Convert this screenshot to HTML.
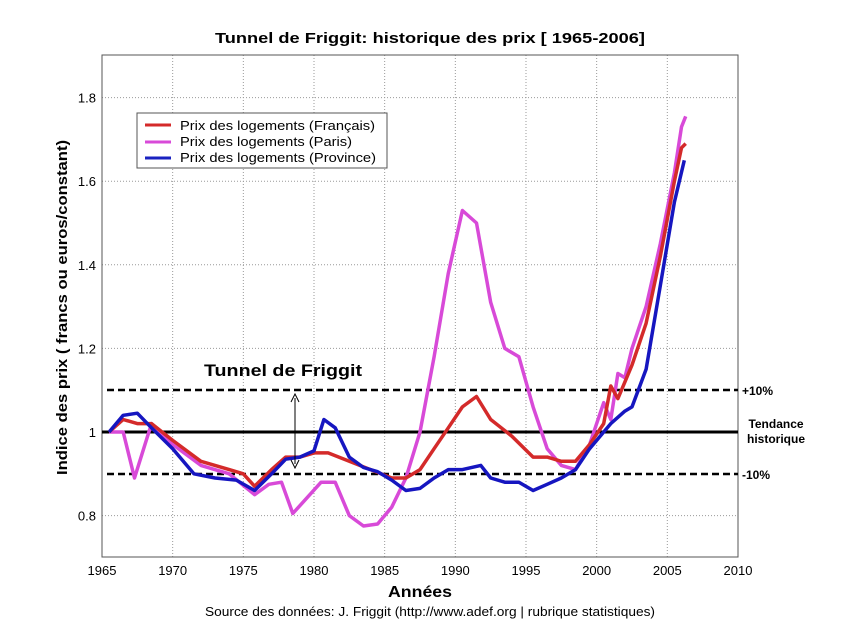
<!DOCTYPE html>
<html><head><meta charset="utf-8"><style>
body{margin:0;background:#fff;}
svg{display:block;font-family:"Liberation Sans",Arial,sans-serif;}
</style></head><body>
<svg id="s" width="846" height="638" viewBox="0 0 846 638" xmlns="http://www.w3.org/2000/svg">
<rect x="0" y="0" width="846" height="638" fill="#fff"/>
<text x="215" y="43" font-size="15" font-weight="bold" textLength="430" lengthAdjust="spacingAndGlyphs">Tunnel de Friggit: historique des prix [ 1965-2006]</text>
<g id="grid" stroke="#999" stroke-width="1" stroke-dasharray="1,2"></g>
<rect x="102" y="55" width="636" height="502" fill="none" stroke="#555" stroke-width="1"/>
<g id="ticks" font-size="13" fill="#000"></g>
<line x1="107" y1="390" x2="738" y2="390" stroke="#000" stroke-width="2.5" stroke-dasharray="7,4"/>
<line x1="107" y1="474" x2="738" y2="474" stroke="#000" stroke-width="2.5" stroke-dasharray="7,4"/>
<line x1="102" y1="432" x2="738" y2="432" stroke="#000" stroke-width="3"/>
<g id="series" fill="none" stroke-width="3.5" stroke-linejoin="round"></g>
<line x1="295" y1="398" x2="295" y2="464" stroke="#000" stroke-width="1"/>
<path d="M291,402 L295,394 L299,402 M291,460 L295,468 L299,460" fill="none" stroke="#000" stroke-width="1"/>
<text x="204" y="376" font-size="17" font-weight="bold" textLength="158" lengthAdjust="spacingAndGlyphs">Tunnel de Friggit</text>
<text x="742" y="395" font-size="12" font-weight="bold">+10%</text>
<text x="776" y="428" font-size="12" font-weight="bold" text-anchor="middle">Tendance</text>
<text x="776" y="443" font-size="12" font-weight="bold" text-anchor="middle">historique</text>
<text x="742" y="479" font-size="12" font-weight="bold">-10%</text>
<rect x="137" y="113" width="250" height="55" fill="#fff" stroke="#555" stroke-width="1"/>
<line x1="145" y1="125" x2="171" y2="125" stroke="#d42a2a" stroke-width="3"/>
<line x1="145" y1="142" x2="171" y2="142" stroke="#d84ad8" stroke-width="3"/>
<line x1="145" y1="158" x2="171" y2="158" stroke="#1a22c0" stroke-width="3"/>
<text x="180" y="130" font-size="13" textLength="195" lengthAdjust="spacingAndGlyphs">Prix des logements (Français)</text>
<text x="180" y="146" font-size="13" textLength="172" lengthAdjust="spacingAndGlyphs">Prix des logements (Paris)</text>
<text x="180" y="162" font-size="13" textLength="196" lengthAdjust="spacingAndGlyphs">Prix des logements (Province)</text>
<text transform="translate(67,475) rotate(-90)" font-size="15" font-weight="bold" textLength="335" lengthAdjust="spacingAndGlyphs">Indice des prix ( francs ou euros/constant)</text>
<text x="388" y="597" font-size="16" font-weight="bold" textLength="64" lengthAdjust="spacingAndGlyphs">Années</text>
<text x="205" y="616" font-size="13" textLength="450" lengthAdjust="spacingAndGlyphs">Source des données: J. Friggit (http://www.adef.org | rubrique statistiques)</text>
</svg>
<script>
var NS="http://www.w3.org/2000/svg";
function X(y){return 102+(y-1965)*14.133;}
function Y(v){return 432-(v-1)*418;}
function el(t,a,p){var e=document.createElementNS(NS,t);for(var k in a)e.setAttribute(k,a[k]);p.appendChild(e);return e;}
var g=document.getElementById('grid'),tk=document.getElementById('ticks');
for(var yr=1970;yr<=2005;yr+=5){var x=X(yr);el('line',{x1:x,y1:55,x2:x,y2:557},g);}
[0.8,1.2,1.4,1.6,1.8].forEach(function(v){el('line',{x1:102,y1:Y(v),x2:738,y2:Y(v)},g);});
for(var yr=1965;yr<=2010;yr+=5){var t=el('text',{x:X(yr),y:575,'text-anchor':'middle'},tk);t.textContent=yr;}
[[0.8,'0.8'],[1,'1'],[1.2,'1.2'],[1.4,'1.4'],[1.6,'1.6'],[1.8,'1.8']].forEach(function(a){var t=el('text',{x:96,y:Y(a[0])+5,'text-anchor':'end'},tk);t.textContent=a[1];});
var S=[
['#d84ad8',[[1965.5,1],[1966.5,1],[1967.3,0.89],[1968.5,1.02],[1970,0.97],[1972,0.92],[1974,0.9],[1975.8,0.85],[1976.8,0.875],[1977.7,0.88],[1978.5,0.805],[1980.5,0.88],[1981.5,0.88],[1982.5,0.80],[1983.5,0.775],[1984.5,0.78],[1985.5,0.82],[1986.5,0.89],[1987.5,1.0],[1988.5,1.18],[1989.5,1.38],[1990.5,1.53],[1991.5,1.5],[1992.5,1.31],[1993.5,1.2],[1994.5,1.18],[1995.5,1.06],[1996.5,0.96],[1997.5,0.92],[1998.5,0.91],[1999.5,0.97],[2000.5,1.07],[2001,1.03],[2001.5,1.14],[2002,1.13],[2002.5,1.2],[2003.5,1.3],[2004.5,1.45],[2005.5,1.62],[2006,1.73],[2006.3,1.755]]],
['#d42a2a',[[1965.5,1],[1966.5,1.03],[1967.5,1.02],[1968.5,1.02],[1970,0.98],[1972,0.93],[1974,0.91],[1975,0.9],[1975.8,0.87],[1977,0.91],[1978,0.94],[1979,0.94],[1980,0.95],[1981,0.95],[1982.5,0.93],[1984,0.91],[1985.5,0.89],[1986.5,0.89],[1987.5,0.91],[1988.5,0.96],[1989.5,1.01],[1990.5,1.06],[1991.5,1.085],[1992.5,1.03],[1994,0.99],[1995.5,0.94],[1996.5,0.94],[1997.5,0.93],[1998.5,0.93],[1999.5,0.97],[2000.5,1.02],[2001,1.11],[2001.5,1.08],[2002.5,1.16],[2003.5,1.26],[2004.5,1.42],[2005.5,1.6],[2006,1.68],[2006.3,1.69]]],
['#1616c0',[[1965.5,1],[1966.5,1.04],[1967.5,1.045],[1968.5,1.01],[1970,0.96],[1971.5,0.9],[1973,0.89],[1974.5,0.885],[1975.8,0.86],[1977,0.9],[1978,0.935],[1979,0.94],[1980,0.955],[1980.7,1.03],[1981.5,1.01],[1982.5,0.94],[1983.5,0.915],[1984.5,0.905],[1985.5,0.885],[1986.5,0.86],[1987.5,0.865],[1988.5,0.89],[1989.5,0.91],[1990.5,0.91],[1991.8,0.92],[1992.5,0.89],[1993.5,0.88],[1994.5,0.88],[1995.5,0.86],[1996.5,0.875],[1997.5,0.89],[1998.5,0.91],[1999.5,0.96],[2000.5,1.0],[2001,1.02],[2002,1.05],[2002.5,1.06],[2003.5,1.15],[2004.5,1.35],[2005.5,1.55],[2006.2,1.65]]]
];
var sg=document.getElementById('series');
S.forEach(function(s){el('polyline',{points:s[1].map(function(p){return X(p[0]).toFixed(1)+','+Y(p[1]).toFixed(1);}).join(' '),stroke:s[0]},sg);});
</script>
</body></html>
